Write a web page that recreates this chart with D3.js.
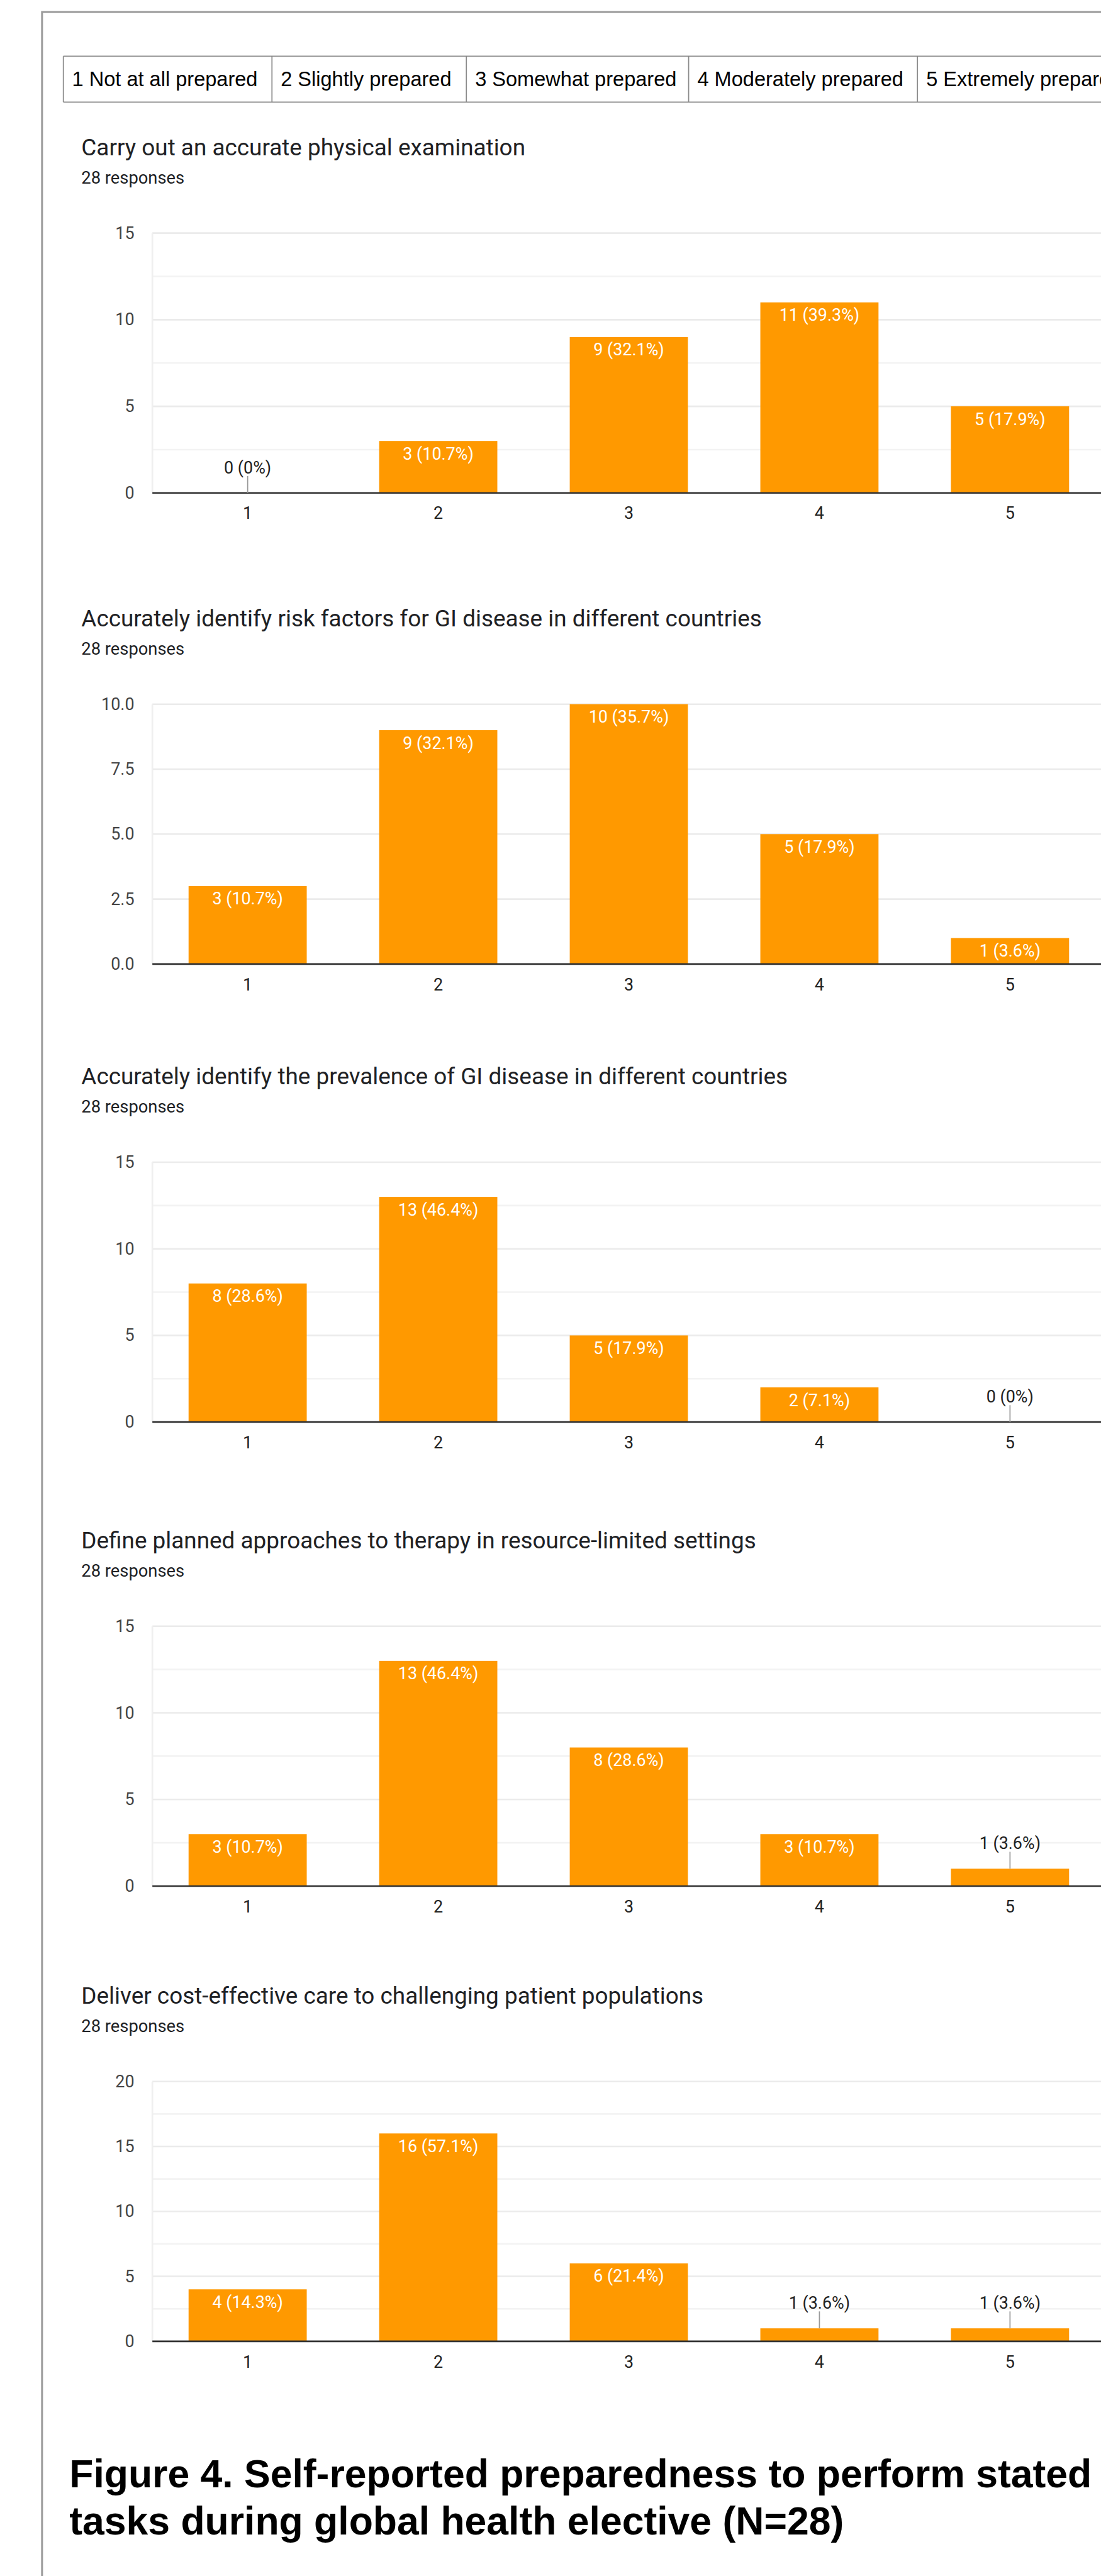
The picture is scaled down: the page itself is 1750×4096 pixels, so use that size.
<!DOCTYPE html>
<html><head><meta charset="utf-8">
<script src="https://cdn.jsdelivr.net/npm/d3@7"></script>
<style>html,body{margin:0;padding:0;background:#fff;overflow:hidden}</style>
</head><body>
<script>
// ---------- data ----------
const legendLabels = ["1 Not at all prepared", "2 Slightly prepared", "3 Somewhat prepared", "4 Moderately prepared", "5 Extremely prepared"];
const categories = ["1", "2", "3", "4", "5"];
const chartTitles = [
  "Carry out an accurate physical examination",
  "Accurately identify risk factors for GI disease in different countries",
  "Accurately identify the prevalence of GI disease in different countries",
  "Define planned approaches to therapy in resource-limited settings",
  "Deliver cost-effective care to challenging patient populations"
];
const responsesLabel = "28 responses";

const counts1 = [0, 3, 9, 11, 5];
const pct1 = ["0%", "10.7%", "32.1%", "39.3%", "17.9%"];
const counts2 = [3, 9, 10, 5, 1];
const pct2 = ["10.7%", "32.1%", "35.7%", "17.9%", "3.6%"];
const counts3 = [8, 13, 5, 2, 0];
const pct3 = ["28.6%", "46.4%", "17.9%", "7.1%", "0%"];
const counts4 = [3, 13, 8, 3, 1];
const pct4 = ["10.7%", "46.4%", "28.6%", "10.7%", "3.6%"];
const counts5 = [4, 16, 6, 1, 1];
const pct5 = ["14.3%", "57.1%", "21.4%", "3.6%", "3.6%"];

const yMaxes = [15, 10, 15, 15, 20];
const yTicks1 = [0, 5, 10, 15];
const yTickLabels1 = ["0", "5", "10", "15"];
const yTicks2 = [0, 2.5, 5, 7.5, 10];
const yTickLabels2 = ["0.0", "2.5", "5.0", "7.5", "10.0"];
const yTicks3 = [0, 5, 10, 15];
const yTickLabels3 = ["0", "5", "10", "15"];
const yTicks4 = [0, 5, 10, 15];
const yTickLabels4 = ["0", "5", "10", "15"];
const yTicks5 = [0, 5, 10, 15, 20];
const yTickLabels5 = ["0", "5", "10", "15", "20"];
const minorTicks1 = [2.5, 7.5, 12.5];
const minorTicks2 = [];
const minorTicks3 = [2.5, 7.5, 12.5];
const minorTicks4 = [2.5, 7.5, 12.5];
const minorTicks5 = [2.5, 7.5, 12.5, 17.5];

const captionLines = [
  "Figure 4. Self-reported preparedness to perform stated",
  "tasks during global health elective (N=28)"
];

// ---------- assemble ----------
const charts = [
  {title: chartTitles[0], counts: counts1, pct: pct1, yMax: yMaxes[0], ticks: yTicks1, tickLabels: yTickLabels1, minor: minorTicks1},
  {title: chartTitles[1], counts: counts2, pct: pct2, yMax: yMaxes[1], ticks: yTicks2, tickLabels: yTickLabels2, minor: minorTicks2},
  {title: chartTitles[2], counts: counts3, pct: pct3, yMax: yMaxes[2], ticks: yTicks3, tickLabels: yTickLabels3, minor: minorTicks3},
  {title: chartTitles[3], counts: counts4, pct: pct4, yMax: yMaxes[3], ticks: yTicks4, tickLabels: yTickLabels4, minor: minorTicks4},
  {title: chartTitles[4], counts: counts5, pct: pct5, yMax: yMaxes[4], ticks: yTicks5, tickLabels: yTickLabels5, minor: minorTicks5}
];

// ---------- layout (reference pixel units, scaled by S) ----------
const S = 0.868;
const W = 1750, H = 4096;
const plotTops = [427, 1290, 2129, 2979, 3813];
const plotH = 476;
const plotLeft = 279, plotRight = 2024;
const orange = "#ff9900";
const uiFont = "Roboto, 'Noto Sans', sans-serif";
const docFont = "'Liberation Sans', Arial, sans-serif";

const svg = d3.select("body").append("svg")
  .attr("width", W).attr("height", H)
  .attr("viewBox", `0 0 ${W} ${H}`);
const root = svg.append("g").attr("transform", `scale(${S})`);

// outer frame
root.append("rect")
  .attr("x", 77).attr("y", 22).attr("width", 4000).attr("height", 8000)
  .attr("fill", "none").attr("stroke", "#9c9c9c").attr("stroke-width", 3.5);

// legend table
const legendDiv = [116, 498, 854, 1261, 1680, 2240];
const legTop = 103, legBot = 187;
const leg = root.append("g");
leg.append("line").attr("x1", legendDiv[0]).attr("x2", 2100).attr("y1", legTop).attr("y2", legTop)
  .attr("stroke", "#8a8a8a").attr("stroke-width", 2);
leg.append("line").attr("x1", legendDiv[0]).attr("x2", 2100).attr("y1", legBot).attr("y2", legBot)
  .attr("stroke", "#8a8a8a").attr("stroke-width", 2);
leg.selectAll("line.div").data(legendDiv).join("line").attr("class", "div")
  .attr("x1", d => d).attr("x2", d => d).attr("y1", legTop).attr("y2", legBot)
  .attr("stroke", "#8a8a8a").attr("stroke-width", 2);
leg.selectAll("text").data(legendLabels).join("text")
  .attr("x", (d, i) => legendDiv[i] + 16).attr("y", 158)
  .attr("font-family", docFont).attr("font-size", 37.5).attr("fill", "#000")
  .text(d => d);

// charts
charts.forEach((c, ci) => {
  const top = plotTops[ci];
  const g = root.append("g");
  const y = d3.scaleLinear().domain([0, c.yMax]).range([top + plotH, top]);
  const x = d3.scaleBand().domain(categories).range([plotLeft, plotRight])
    .paddingInner(0.38).paddingOuter(0.19);

  g.append("text").attr("x", 149).attr("y", top - 143)
    .attr("font-family", uiFont).attr("font-size", 42.5).attr("fill", "#202124")
    .text(c.title);
  g.append("text").attr("x", 149).attr("y", top - 91)
    .attr("font-family", uiFont).attr("font-size", 31.5).attr("fill", "#202124")
    .text(responsesLabel);

  // gridlines
  g.selectAll("line.minor").data(c.minor).join("line").attr("class", "minor")
    .attr("x1", plotLeft).attr("x2", plotRight).attr("y1", d => y(d)).attr("y2", d => y(d))
    .attr("stroke", "#f3f3f3").attr("stroke-width", 3);
  g.selectAll("line.major").data(c.ticks.filter(t => t !== 0)).join("line").attr("class", "major")
    .attr("x1", plotLeft).attr("x2", plotRight).attr("y1", d => y(d)).attr("y2", d => y(d))
    .attr("stroke", "#ebebeb").attr("stroke-width", 3);
  g.append("line").attr("x1", plotLeft).attr("x2", plotLeft)
    .attr("y1", y(c.yMax)).attr("y2", y(0))
    .attr("stroke", "#efefef").attr("stroke-width", 3);

  // y axis labels
  const ya = g.append("g").attr("transform", `translate(${plotLeft},0)`)
    .call(d3.axisLeft(y).tickValues(c.ticks).tickFormat((d, j) => c.tickLabels[j])
      .tickSize(0).tickPadding(33));
  ya.select(".domain").remove();
  ya.selectAll("text").attr("font-family", uiFont).attr("font-size", 31).attr("fill", "#444");

  // bars
  g.selectAll("rect.bar").data(c.counts).join("rect").attr("class", "bar")
    .attr("x", (d, i) => x(categories[i])).attr("width", x.bandwidth())
    .attr("y", d => y(d)).attr("height", d => y(0) - y(d))
    .attr("fill", orange);

  // zero baseline
  g.append("line").attr("x1", plotLeft).attr("x2", plotRight)
    .attr("y1", y(0)).attr("y2", y(0)).attr("stroke", "#333").attr("stroke-width", 3);

  // x axis labels
  const xa = g.append("g").attr("transform", `translate(0,${y(0)})`)
    .call(d3.axisBottom(x).tickSize(0).tickPadding(26));
  xa.select(".domain").remove();
  xa.selectAll("text").attr("font-family", uiFont).attr("font-size", 31).attr("fill", "#222");

  // value labels
  c.counts.forEach((v, i) => {
    const cx = x(categories[i]) + x.bandwidth() / 2;
    const label = `${v} (${c.pct[i]})`;
    const bh = y(0) - y(v);
    if (bh >= 45) {
      g.append("text").attr("x", cx).attr("y", y(v) + 34).attr("text-anchor", "middle")
        .attr("font-family", uiFont).attr("font-size", 31).attr("fill", "#fff").text(label);
    } else {
      g.append("line").attr("x1", cx).attr("x2", cx).attr("y1", y(v) - 31).attr("y2", y(v))
        .attr("stroke", "#999").attr("stroke-width", 2);
      g.append("text").attr("x", cx).attr("y", y(v) - 36).attr("text-anchor", "middle")
        .attr("font-family", uiFont).attr("font-size", 31).attr("fill", "#222").text(label);
    }
  });
});

// caption
root.selectAll("text.caption").data(captionLines).join("text").attr("class", "caption")
  .attr("x", 127).attr("y", (d, i) => 4556 + i * 87)
  .attr("font-family", docFont).attr("font-weight", "bold").attr("font-size", 72).attr("fill", "#000")
  .text(d => d);
</script>
</body></html>
